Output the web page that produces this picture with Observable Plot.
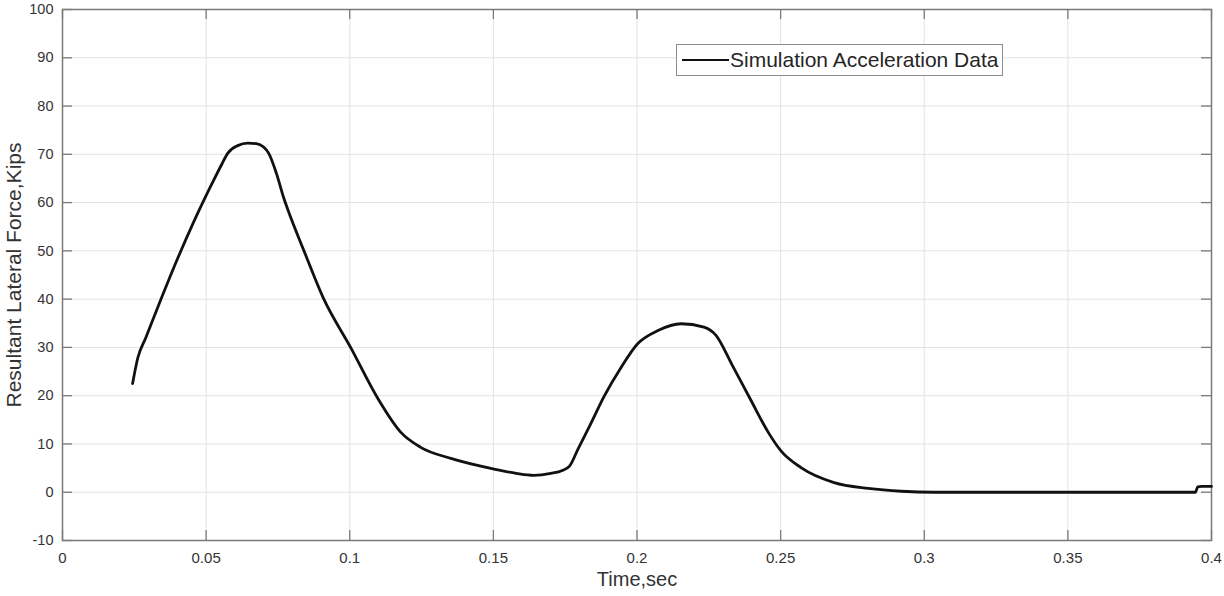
<!DOCTYPE html>
<html><head><meta charset="utf-8">
<script src="https://cdn.jsdelivr.net/npm/d3@7"></script>
<script src="https://cdn.jsdelivr.net/npm/@observablehq/plot@0.6"></script>
<style>
body{margin:0;background:#fff;}
#wrap{position:relative;width:1224px;height:596px;}
#legend{position:absolute;left:676px;top:44px;width:327px;height:32px;border:1px solid #8c8c8c;background:#fff;font-family:"Liberation Sans",Arial,sans-serif;font-size:21px;color:#262626;box-sizing:border-box;}
#legend .ln{position:absolute;left:5px;top:14px;width:47px;height:0;border-top:2.8px solid #111;}
#legend .tx{position:absolute;left:53px;top:3px;white-space:nowrap;}
</style></head>
<body><div id="wrap"><div id="chart"></div><div id="legend"><div class="ln"></div><div class="tx">Simulation Acceleration Data</div></div></div>
<script>
const time = [0.0244,0.0262,0.0290,0.0341,0.0400,0.0456,0.0516,0.0555,0.0575,0.0610,0.0645,0.0675,0.0700,0.0718,0.0745,0.0770,0.0794,0.0840,0.0909,0.1003,0.1098,0.1178,0.1247,0.1352,0.1502,0.1580,0.1640,0.1700,0.1740,0.1765,0.1795,0.1840,0.1885,0.1944,0.2003,0.2073,0.2153,0.2233,0.2275,0.2330,0.2397,0.2456,0.2502,0.2571,0.2686,0.2805,0.2920,0.3035,0.3944,0.3952,0.3965,0.4000];
const force = [22.5,27.8,32.0,39.7,48.3,55.9,63.4,68.0,70.2,71.8,72.3,72.2,71.5,70.2,66.0,61.0,57.0,50.1,40.1,30.0,19.4,12.4,9.3,7.0,4.8,3.9,3.5,3.9,4.5,5.4,9.0,14.3,19.8,25.8,30.8,33.5,34.9,34.2,32.5,26.5,19.0,12.5,8.5,5.1,2.0,0.8,0.2,0.0,0.0,1.1,1.2,1.2];
const xTicks = [0,0.05,0.1,0.15,0.2,0.25,0.3,0.35,0.4];
const yTicks = [-10,0,10,20,30,40,50,60,70,80,90,100];
const seriesName = "Simulation Acceleration Data";
const xLabel = "Time,sec";
const yLabel = "Resultant Lateral Force,Kips";

const W = 1224, H = 596, mL = 62, mR = 13, mT = 9, mB = 56, tick = 10;
const fw = W - mL - mR, fh = H - mT - mB;
const data = time.map((t,i)=>({t, f: force[i]}));
const fmt = v => String(+v.toFixed(2));
const axisColor = "#7a7a7a";
const textColor = "#333";

const chart = Plot.plot({
  width: W, height: H,
  marginLeft: mL, marginRight: mR, marginTop: mT, marginBottom: mB,
  style: {fontFamily: '"Liberation Sans", Arial, sans-serif', background: "#fff", color: textColor},
  x: {domain: [0, 0.4]},
  y: {domain: [-10, 100]},
  marks: [
    Plot.gridX(xTicks, {stroke: "#e3e3e3", strokeOpacity: 1}),
    Plot.gridY(yTicks, {stroke: "#e3e3e3", strokeOpacity: 1}),
    Plot.tickX(xTicks, {x: d => d, insetTop: fh - tick, stroke: axisColor, strokeWidth: 1.3}),
    Plot.tickX(xTicks, {x: d => d, insetBottom: fh - tick, stroke: axisColor, strokeWidth: 1.3}),
    Plot.tickY(yTicks, {y: d => d, insetRight: fw - tick, stroke: axisColor, strokeWidth: 1.3}),
    Plot.tickY(yTicks, {y: d => d, insetLeft: fw - tick, stroke: axisColor, strokeWidth: 1.3}),
    Plot.frame({stroke: axisColor, strokeWidth: 1.5}),
    Plot.axisX(xTicks, {anchor: "bottom", tickSize: 0, tickPadding: 12, tickFormat: fmt, fontSize: 15, label: null, fill: textColor}),
    Plot.axisY(yTicks, {anchor: "left", tickSize: 0, tickPadding: 9, tickFormat: fmt, fontSize: 14.5, label: null, fill: textColor}),
    Plot.line(data, {x: "t", y: "f", stroke: "#111", strokeWidth: 2.8, curve: "monotone-x"}),
    Plot.text([xLabel], {frameAnchor: "bottom", dy: 45, fontSize: 20, fill: textColor, textAnchor: "middle"}),
    Plot.text([yLabel], {frameAnchor: "left", dx: -48, rotate: -90, fontSize: 21, fill: textColor, textAnchor: "middle"})
  ]
});
document.getElementById("chart").appendChild(chart);
</script>
</body></html>
